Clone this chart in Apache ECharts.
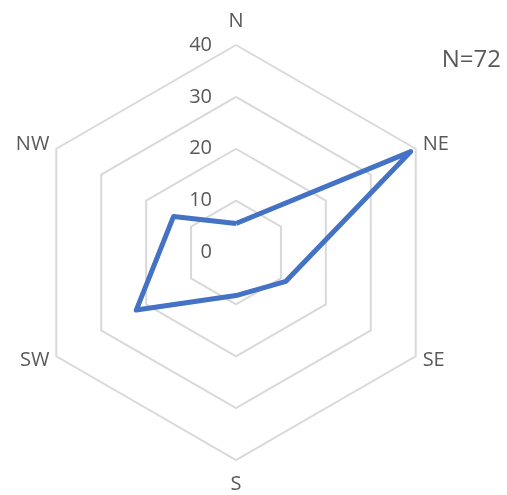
<!DOCTYPE html>
<html>
<head>
<meta charset="utf-8">
<script src="https://cdn.jsdelivr.net/npm/echarts@6/dist/echarts.min.js"></script>
<style>
  html, body { margin: 0; padding: 0; background: #fff; }
  #chart { width: 507px; height: 495px; }
</style>
</head>
<body>
<div id="chart"></div>
<script>
// Wind directions around the rose, clockwise from north
const directions = ['N', 'NE', 'SE', 'S', 'SW', 'NW'];
// Share of observations per direction (%), N=72
const shares = [5.6, 38.9, 11.1, 8.3, 22.2, 13.9];
const axisMax = 40;
const sampleLabel = 'N=72';

const font = '"Open Sans", "Noto Sans", sans-serif';
const textColor = '#595959';

// ECharts lays radar spokes out counter-clockwise, so keep N first
// and walk the remaining directions backwards to read clockwise.
const order = [0].concat(directions.map(function (_, i) { return i; }).slice(1).reverse());

const indicator = order.map(function (idx) {
  const name = directions[idx];
  const vertical = name === 'N' || name === 'S';
  return {
    name: name,
    min: 0,
    max: axisMax,
    nameGap: vertical ? 14 : 8,
    // only the north spoke carries the scale labels
    axisLabel: { show: idx === 0 }
  };
});
const values = order.map(function (idx) { return shares[idx]; });

const chart = echarts.init(document.getElementById('chart'), null, { renderer: 'canvas' });

chart.setOption({
  animation: false,
  radar: {
    center: [236, 252.5],
    radius: 207.5,
    startAngle: 90,
    shape: 'polygon',
    splitNumber: 4,
    indicator: indicator,
    axisName: { color: textColor, fontFamily: font, fontSize: 20 },
    axisLine: { show: false },
    axisTick: { show: false },
    axisLabel: {
      show: true,
      color: textColor,
      fontFamily: font,
      fontSize: 20,
      margin: 24
    },
    splitLine: { lineStyle: { color: '#d9d9d9', width: 2 } },
    splitArea: { show: false }
  },
  graphic: [{
    type: 'text',
    right: 6,
    top: 48,
    style: { text: sampleLabel, fill: textColor, font: '24px ' + font }
  }],
  series: [{
    type: 'radar',
    symbol: 'none',
    lineStyle: { color: '#4472C4', width: 5, join: 'round' },
    data: [{ value: values, name: 'Share' }]
  }]
});
</script>
</body>
</html>
